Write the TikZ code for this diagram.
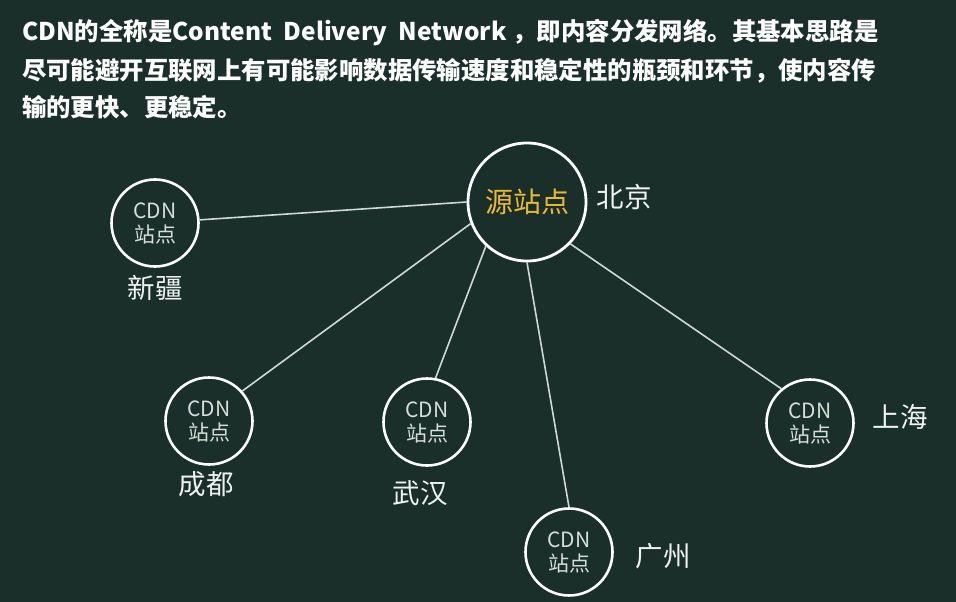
\documentclass[tikz,border=0pt]{standalone}
\usepackage{fontspec}
\setmainfont{Noto Sans CJK SC}
\definecolor{bg}{HTML}{1A2F2A}
\definecolor{gold}{HTML}{EDB932}
\definecolor{cdntext}{HTML}{D6DEDA}
\definecolor{citytext}{HTML}{EEF2F0}
\definecolor{linec}{HTML}{D0D8D4}
\tikzset{
  site/.style={circle, draw=white, line width=2.6pt, minimum size=87pt, inner sep=0pt,
    text=cdntext, font=\fontsize{21}{24}\selectfont, align=center},
  src/.style={circle, draw=white, line width=2.8pt, minimum size=118pt, inner sep=0pt,
    text=gold, font=\fontsize{28}{30}\selectfont},
  city/.style={text=citytext, font=\fontsize{27.5}{30}\selectfont, inner sep=0pt},
  link/.style={draw=linec, line width=1.6pt},
  head/.style={anchor=base west, text=white, font=\fontsize{24.4}{28}\selectfont\bfseries, inner sep=0pt}
}
\begin{document}
\begin{tikzpicture}[x=1pt,y=-1pt]
\fill[bg] (0,0) rectangle (956,602);
\useasboundingbox (0,0) rectangle (956,602);
\node[head] (h1) at (22,41) {CDN的全称是Content\hspace{6pt} Delivery\hspace{6pt} Network\hspace{6pt}，即内容分发网络。其基本思路是};
\node[head] (h2) at (22,79) {尽可能避开互联网上有可能影响数据传输速度和稳定性的瓶颈和环节，使内容传};
\node[head] (h3) at (22,116) {输的更快、更稳定。};

\node[src] (src) at (527,202) {源站点};
\node[site] (xj) at (155,223) {CDN\\站点};
\node[site] (cd) at (209,421) {CDN\\站点};
\node[site] (wh) at (427,422) {CDN\\站点};
\node[site] (gz) at (569,552) {CDN\\站点};
\node[site] (sh) at (810,423) {CDN\\站点};

\draw[link] (xj.4) -- (src.180);
\draw[link] (cd.42) -- (src.201);
\draw[link] (wh.79) -- (src.227);
\draw[link] (gz.90) -- (src.270);
\draw[link] (sh.130) -- (src.316);

\node[city] (bj) at (624,197) {北京};
\node[city] (xjl) at (155,288) {新疆};
\node[city] (cdl) at (206,484) {成都};
\node[city] (whl) at (420,493) {武汉};
\node[city] (shl) at (900,417) {上海};
\node[city] (gzl) at (663,556) {广州};
\end{tikzpicture}
\end{document}
